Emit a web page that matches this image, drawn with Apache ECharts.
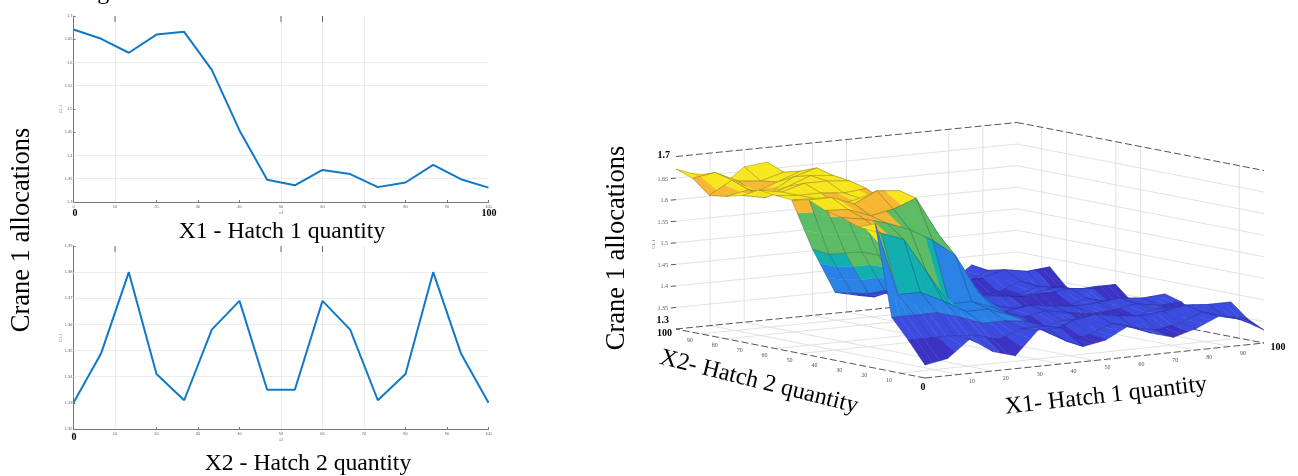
<!DOCTYPE html>
<html><head><meta charset="utf-8">
<style>html,body{margin:0;padding:0;background:#fff}#c{width:1298px;height:476px}</style>
<script src="https://cdn.jsdelivr.net/npm/echarts@6/dist/echarts.min.js"></script>
</head><body><div id="c"></div>
<script>
// Sampled grid positions shared by all three panels
const gridX = [0,6.67,13.33,20,26.67,33.33,40,46.67,53.33,60,66.67,73.33,80,86.67,93.33,100];

// Left panels
const x1Line = [1.671,1.651,1.621,1.660,1.666,1.584,1.454,1.348,1.336,1.369,1.360,1.332,1.342,1.380,1.349,1.331];
const x2Line = [1.330,1.349,1.380,1.341,1.331,1.358,1.369,1.335,1.335,1.369,1.358,1.331,1.341,1.380,1.349,1.330];
const x1VisibleH = [1.35,1.4,1.55,1.6];
const x2VisibleH = [1.34,1.35,1.36,1.37,1.38];
const visibleV = [10,50,60,70];
const darkStubs = [10,50,60];

// Surface: one row per X1 sample, one column per X2 sample
const surface = [
 [1.33,1.38,1.425,1.635,1.62,1.634,1.643,1.66,1.652,1.655,1.66,1.64,1.63,1.625,1.657,1.671],
 [1.34,1.38,1.425,1.465,1.60,1.625,1.64,1.66,1.65,1.65,1.65,1.63,1.64,1.655,1.665,1.651],
 [1.38,1.38,1.425,1.465,1.58,1.61,1.62,1.64,1.63,1.65,1.665,1.65,1.63,1.62,1.64,1.621],
 [1.345,1.375,1.41,1.44,1.50,1.59,1.63,1.665,1.64,1.645,1.665,1.67,1.66,1.64,1.635,1.660],
 [1.33,1.36,1.39,1.41,1.42,1.56,1.65,1.66,1.63,1.65,1.66,1.665,1.675,1.66,1.65,1.666],
 [1.384,1.38,1.39,1.41,1.42,1.52,1.56,1.58,1.57,1.575,1.59,1.60,1.60,1.59,1.60,1.584],
 [1.384,1.38,1.384,1.39,1.40,1.43,1.46,1.47,1.45,1.46,1.47,1.47,1.47,1.46,1.45,1.454],
 [1.335,1.34,1.35,1.36,1.37,1.38,1.38,1.37,1.36,1.37,1.38,1.38,1.375,1.36,1.355,1.348],
 [1.345,1.35,1.375,1.35,1.34,1.36,1.365,1.345,1.34,1.36,1.355,1.34,1.345,1.36,1.34,1.336],
 [1.372,1.37,1.384,1.365,1.355,1.37,1.375,1.36,1.36,1.375,1.37,1.36,1.365,1.384,1.372,1.369],
 [1.35,1.355,1.375,1.35,1.34,1.36,1.368,1.345,1.345,1.368,1.36,1.345,1.35,1.375,1.36,1.36],
 [1.335,1.345,1.37,1.34,1.332,1.352,1.362,1.335,1.335,1.362,1.352,1.332,1.34,1.368,1.345,1.332],
 [1.35,1.355,1.375,1.345,1.34,1.355,1.365,1.34,1.34,1.365,1.355,1.34,1.345,1.37,1.35,1.342],
 [1.373,1.375,1.384,1.37,1.36,1.365,1.37,1.355,1.355,1.37,1.365,1.36,1.365,1.384,1.375,1.38],
 [1.36,1.36,1.38,1.35,1.34,1.355,1.365,1.34,1.34,1.365,1.355,1.34,1.345,1.375,1.355,1.349],
 [1.33,1.349,1.38,1.341,1.331,1.358,1.369,1.335,1.335,1.369,1.358,1.331,1.341,1.38,1.349,1.33]
];
const zWallTicks = [1.35,1.4,1.45,1.5,1.55,1.6,1.65];
const x1WallLines = [10,20,40,50,80,90];
const x2WallLines = [10,50,60,80,90];
const horizTicks = [10,20,30,40,50,60,70,80,90];

// Colour bands by height
const bandLimits = [1.345,1.385,1.43,1.47,1.60,1.635];
const bandColors = ['#3b33c6','#3c4ce0','#2b82e6','#12aeb0','#5dbd66','#f6b733','#f8e61e'];
const shadeSteps = 3;

// Oblique view of the box
const corner = {F:[925,378],R:[1264,343],L:[676,329],B:[1017,295]};
const zPx = 172.5/0.4;
function project(a,b,z){
  const u=a/100, v=b/100;
  const x=(1-u)*(1-v)*corner.F[0]+u*(1-v)*corner.R[0]+(1-u)*v*corner.L[0]+u*v*corner.B[0];
  const y=(1-u)*(1-v)*corner.F[1]+u*(1-v)*corner.R[1]+(1-u)*v*corner.L[1]+u*v*corner.B[1];
  return [x,y-(z-1.3)*zPx];
}
function band(z){let k=0;while(k<bandLimits.length&&z>=bandLimits[k])k++;return bandColors[k];}

// Faces are listed far to near so nearer ones paint over
const faces=[];
for(let i=gridX.length-2;i>=0;i--)for(let j=gridX.length-2;j>=0;j--){
  faces.push([gridX[i],gridX[i+1],gridX[j],gridX[j+1],surface[i][j],surface[i+1][j],surface[i+1][j+1],surface[i][j+1]]);
}
const wallSegs=[], frameSegs=[];
zWallTicks.forEach(z=>{wallSegs.push([0,100,z,100,100,z]);wallSegs.push([100,100,z,100,0,z]);frameSegs.push([-1.5,100,z,0,100,z]);});
x1WallLines.forEach(a=>{wallSegs.push([a,100,1.3,a,100,1.7]);wallSegs.push([a,100,1.3,a,0,1.3]);});
x2WallLines.forEach(b=>{wallSegs.push([100,b,1.3,100,b,1.7]);wallSegs.push([100,b,1.3,0,b,1.3]);});
frameSegs.push([0,100,1.7,100,100,1.7],[100,100,1.7,100,0,1.7],[0,100,1.3,100,100,1.3],[100,100,1.3,100,0,1.3],[0,0,1.3,100,0,1.3],[0,0,1.3,0,100,1.3]);

function segRender(style){
  return (p,api)=>{
    const a=project(api.value(0),api.value(1),api.value(2)),b=project(api.value(3),api.value(4),api.value(5));
    return {type:'line',shape:{x1:a[0],y1:a[1],x2:b[0],y2:b[1]},style};
  };
}
function axisFor(grid,yMin,yMax,yInt,name){
  return {
    x:{type:'value',gridIndex:grid,min:0,max:100,interval:10,name,nameLocation:'middle',nameGap:9,nameMoveOverlap:false,
       nameTextStyle:{fontSize:4,color:'#777'},
       axisLine:{show:true,lineStyle:{color:'#777',width:1}},axisTick:{show:true,inside:true,length:2,lineStyle:{color:'#777'}},
       axisLabel:{fontSize:4,color:'#666',margin:3,fontFamily:'Liberation Sans'},
       splitLine:{show:false}},
    y:{type:'value',gridIndex:grid,min:yMin,max:yMax,interval:yInt,name:'C1.1',nameLocation:'middle',nameGap:11,nameMoveOverlap:false,
       nameTextStyle:{fontSize:4,color:'#777'},
       axisLine:{show:true,lineStyle:{color:'#777',width:1}},axisTick:{show:true,inside:true,length:2,lineStyle:{color:'#777'}},
       axisLabel:{fontSize:4,color:'#666',margin:1,fontFamily:'Liberation Sans',formatter:v=>String(+v.toFixed(2))},
       splitLine:{show:false}}
  };
}
const a1=axisFor(0,1.3,1.7,0.05,'x1'), a2=axisFor(1,1.32,1.39,0.01,'x2');
const serif='"Liberation Serif"';
function txt(text,x,y,size,rot,bold,align,color){
  return {type:'text',x,y,rotation:(rot||0)*Math.PI/180,silent:true,z:50,
    style:{text,fontFamily:serif,fontSize:size,fontWeight:bold?'bold':'normal',fill:color||'#000',align:align||'center',verticalAlign:'middle'}};
}
const texts=[
  txt('al loading of rest.',14,-7,24,0,false,'left'),
  txt('Crane 1 allocations',22,230,26.5,90),
  txt('X1 - Hatch 1 quantity',282,232,23.7),
  txt('X2 - Hatch 2 quantity',308,464,23.7),
  txt('0',75,213,10,0,true), txt('100',489,213,10,0,true), txt('0',74,437,10,0,true),
  txt('Crane 1 allocations',617,248,26.5,90),
  txt('X2- Hatch 2 quantity',759,382,24,-14),
  txt('X1- Hatch 1 quantity',1106,396,24,6.5),
  txt('1.7',670,155,10,0,true,'right'), txt('1.3',669,320,10,0,true,'right'), txt('100',672,333,10,0,true,'right'),
  txt('0',923,387,10,0,true), txt('100',1278,347,10,0,true),
  txt('C1.1',654,244,5,90,false,'center','#666')
];
zWallTicks.forEach(z=>{const p=project(0,100,z);texts.push(txt(String(z),p[0]-8,p[1]+1,6,0,false,'right','#555'));});
horizTicks.forEach(t=>{
  const p=project(t,0,1.3);texts.push(txt(String(t),p[0]+13,p[1]+7,6,0,false,'center','#555'));
  const q=project(0,t,1.3);texts.push(txt(String(t),q[0]-11,q[1]+7,6,0,false,'center','#555'));
});
function gridMarks(hs,color){
  return {silent:true,symbol:'none',animation:false,z:1,label:{show:false},lineStyle:{color,width:1,type:'solid'},
    data:hs.map(v=>({yAxis:v})).concat(visibleV.map(v=>({xAxis:v})))};
}
function stubs(ax,top){
  return {type:'custom',xAxisIndex:ax,yAxisIndex:ax,data:darkStubs.map(v=>[v]),silent:true,
    renderItem:(p,api)=>{const c=api.coord([api.value(0),top]);return {type:'line',shape:{x1:c[0],y1:c[1],x2:c[0],y2:c[1]+6},style:{stroke:'#666',lineWidth:1}};}};
}
function renderFace(p,api){
  const a0=api.value(0),a1_=api.value(1),b0=api.value(2),b1=api.value(3);
  const z00=api.value(4),z10=api.value(5),z11=api.value(6),z01=api.value(7);
  const at=(s,t)=>{
    const z=(1-s)*(1-t)*z00+s*(1-t)*z10+s*t*z11+(1-s)*t*z01;
    return project(a0+(a1_-a0)*s,b0+(b1-b0)*t,z);
  };
  const kids=[];
  for(let k=shadeSteps-1;k>=0;k--){
    const s0=k/shadeSteps,s1=(k+1)/shadeSteps;
    const c=band(z00+(z10-z00)*s0);
    kids.push({type:'polygon',shape:{points:[at(s0,0),at(s1,0),at(s1,1),at(s0,1)]},style:{fill:c,stroke:c,lineWidth:0.4}});
  }
  kids.push({type:'polygon',shape:{points:[at(0,0),at(1,0),at(1,1),at(0,1)]},style:{fill:null,stroke:'rgba(20,20,60,0.42)',lineWidth:0.5}});
  return {type:'group',children:kids};
}

const chart=echarts.init(document.getElementById('c'),null,{renderer:'canvas'});
chart.setOption({
  animation:false,backgroundColor:'#fff',
  grid:[{left:73.5,top:16,width:415,height:186},{left:73.5,top:246,width:415,height:183}],
  xAxis:[a1.x,a2.x],yAxis:[a1.y,a2.y],
  graphic:{elements:texts},
  series:[
    {type:'line',z:3,xAxisIndex:0,yAxisIndex:0,data:gridX.map((x,i)=>[x,x1Line[i]]),showSymbol:false,lineStyle:{color:'#1079c6',width:2},markLine:gridMarks(x1VisibleH,'#ececec')},
    {type:'line',z:3,xAxisIndex:1,yAxisIndex:1,data:gridX.map((x,i)=>[x,x2Line[i]]),showSymbol:false,lineStyle:{color:'#1079c6',width:2},markLine:gridMarks(x2VisibleH,'#ececec')},
    stubs(0,1.7),stubs(1,1.39),
    {type:'custom',coordinateSystem:'none',data:wallSegs,silent:true,z:1,renderItem:segRender({stroke:'#e2e2e2',lineWidth:1,fill:null})},
    {type:'custom',coordinateSystem:'none',data:frameSegs,silent:true,z:2,renderItem:segRender({stroke:'#555',lineWidth:1,lineDash:[7,3],fill:null})},
    {type:'custom',coordinateSystem:'none',data:faces,silent:true,z:3,renderItem:renderFace}
  ]
});
</script></body></html>
